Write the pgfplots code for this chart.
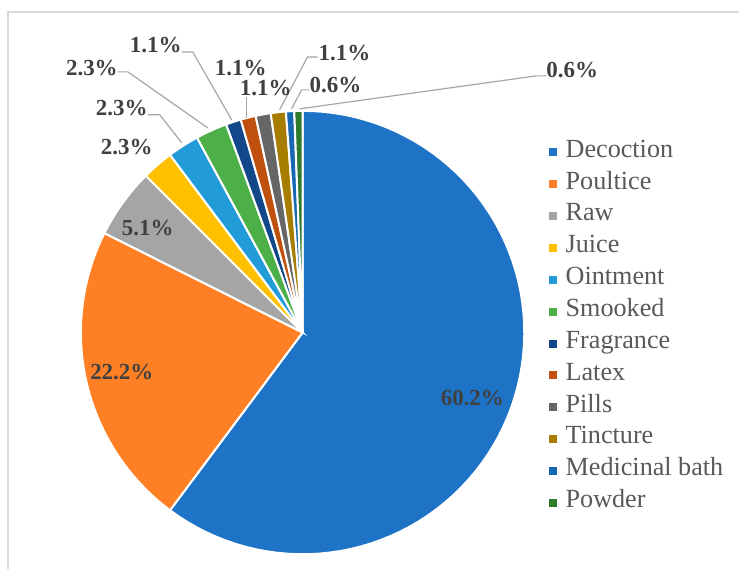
\documentclass[border=0pt]{standalone}
\usepackage{fontspec}
\setmainfont{Liberation Serif}
\usepackage{pgfplots}
\usepackage{pgfplotstable}
\pgfplotsset{compat=1.18}
\definecolor{c0}{HTML}{1F73C7}
\definecolor{c1}{HTML}{FF7F24}
\definecolor{c2}{HTML}{A5A5A5}
\definecolor{c3}{HTML}{FFC000}
\definecolor{c4}{HTML}{229BD9}
\definecolor{c5}{HTML}{4DAF47}
\definecolor{c6}{HTML}{12478A}
\definecolor{c7}{HTML}{C0500E}
\definecolor{c8}{HTML}{666666}
\definecolor{c9}{HTML}{A67D00}
\definecolor{c10}{HTML}{1767B3}
\definecolor{c11}{HTML}{2F7A2C}
\definecolor{lbltext}{HTML}{404040}
\definecolor{legtext}{HTML}{595959}
\definecolor{leader}{HTML}{A6A6A6}
\definecolor{frame}{HTML}{D9D9D9}
\tikzset{lbl/.style={font=\fontsize{11.5}{13}\bfseries\selectfont, text=lbltext, inner sep=0pt}}

\pgfplotstableread[col sep=comma]{
name,value
Decoction,60.2
Poultice,22.2
Raw,5.1
Juice,2.3
Ointment,2.3
Smooked,2.3
Fragrance,1.1
Latex,1.1
Pills,1.1
Tincture,1.1
Medicinal bath,0.6
Powder,0.6
}\piedata

\begin{document}
\begin{tikzpicture}
\begin{axis}[
  hide axis,
  scale only axis,
  width=370pt, height=285pt,
  xmin=0, xmax=740, ymin=0, ymax=570,
  enlargelimits=false,
  clip=false,
  legend style={at={(axis cs:549,431)}, anchor=north west, draw=none, fill=none,
    font=\fontsize{13.1}{14}\selectfont, text=legtext, inner sep=0pt,
    row sep=3.95pt,
    nodes={inner ysep=0pt, inner xsep=4.5pt, text height=9pt, text depth=3pt}},
  legend cell align=left,
  legend image code/.code={\fill[#1,draw=none] (0pt,-2.6pt) rectangle (4pt,1.4pt);},
]
% frame
\draw[frame, line width=1pt] (axis cs:8,0) -- (axis cs:8,558) -- (axis cs:740,558);
\path (axis cs:0,0) rectangle (axis cs:740,570);

\pgfmathsetmacro\cum{0}
\pgfplotsforeachungrouped \i in {0,...,11}{%
  \pgfplotstablegetelem{\i}{value}\of\piedata \let\val\pgfplotsretval
  \pgfplotstablegetelem{\i}{name}\of\piedata \let\nm\pgfplotsretval
  \pgfmathsetmacro\angA{90-3.6*\cum}%
  \pgfmathsetmacro\cum{\cum+\val}%
  \pgfmathsetmacro\angB{90-3.6*\cum}%
  \edef\doslice{\noexpand\addplot[fill=c\i, draw=white, line width=1pt, domain=\angB:\angA, samples=80] ({303+222*cos(x)},{237+222*sin(x)}) -- (axis cs:303,237) -- cycle; \noexpand\addlegendentry{\nm}}%
  \doslice
}

% leader lines
\addplot[leader, line width=0.6pt, forget plot] coordinates {(148,455) (160,455) (182,427)};
\addplot[leader, line width=0.6pt, forget plot] coordinates {(118,498) (128,498) (208,442)};
\addplot[leader, line width=0.6pt, forget plot] coordinates {(182,518) (193,518) (232,450)};
\addplot[leader, line width=0.6pt, forget plot] coordinates {(247,473) (247,452)};
\addplot[leader, line width=0.6pt, forget plot] coordinates {(318,513) (308,513) (280,460)};
\addplot[leader, line width=0.6pt, forget plot] coordinates {(310,480) (302,480) (292,461)};
\addplot[leader, line width=0.6pt, forget plot] coordinates {(547,494) (537,494) (300,461)};

% data labels
\node[lbl] at (axis cs:473,171) {60.2\%};
\node[lbl] at (axis cs:122,197) {22.2\%};
\node[lbl] at (axis cs:148,342) {5.1\%};
\node[lbl] at (axis cs:127,423) {2.3\%};
\node[lbl] at (axis cs:122,462) {2.3\%};
\node[lbl] at (axis cs:92,502) {2.3\%};
\node[lbl] at (axis cs:156,525) {1.1\%};
\node[lbl] at (axis cs:241,502) {1.1\%};
\node[lbl] at (axis cs:266,482) {1.1\%};
\node[lbl] at (axis cs:345,517) {1.1\%};
\node[lbl] at (axis cs:336,485) {0.6\%};
\node[lbl] at (axis cs:573,500) {0.6\%};
\end{axis}
\end{tikzpicture}
\end{document}
